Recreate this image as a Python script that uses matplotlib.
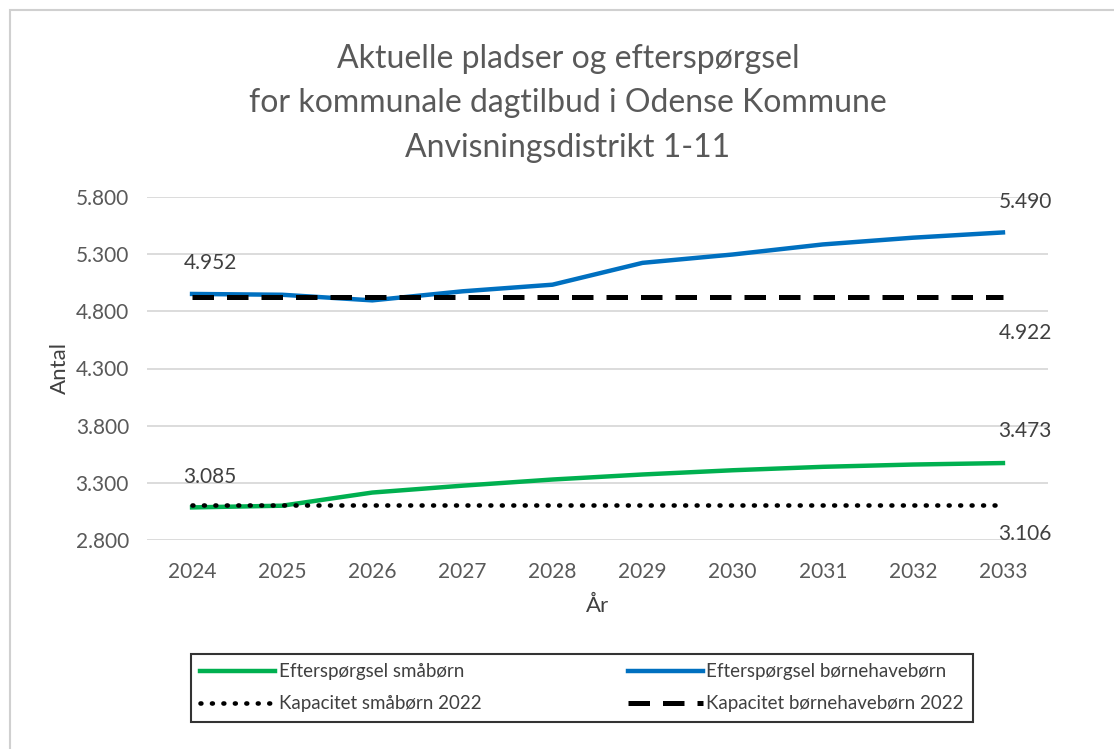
import matplotlib.pyplot as plt
from matplotlib.patches import Rectangle

plt.rcParams['font.family'] = ['Lato', 'DejaVu Sans']

# Data
years = ['2024', '2025', '2026', '2027', '2028', '2029', '2030', '2031', '2032', '2033']
eftersp_smaa = [3085, 3100, 3215, 3275, 3329, 3373, 3410, 3440, 3460, 3473]
eftersp_bh = [4952, 4945, 4896, 4975, 5033, 5224, 5297, 5385, 5444, 5490]
kap_smaa = [3106] * 10
kap_bh = [4922] * 10

grey = '#595959'
x = range(len(years))

fig = plt.figure(figsize=(11.14, 7.49), dpi=100)
ax = fig.add_axes([147 / 1114, 1 - 540 / 749, (1048 - 147) / 1114, (540 - 197) / 749])

# light chart border
fig.patches.append(Rectangle((10 / 1114, -0.1), 1.2, (749 - 10) / 749 + 0.1,
                             transform=fig.transFigure, fill=False,
                             edgecolor='#d0d0d0', linewidth=1.5))

l1, = ax.plot(x, eftersp_smaa, color='#00B050', linewidth=3.2, label='Efterspørgsel småbørn')
l2, = ax.plot(x, eftersp_bh, color='#0070C0', linewidth=3.2, label='Efterspørgsel børnehavebørn')
l3, = ax.plot(x, kap_smaa, color='black', linewidth=3.3, linestyle=(0, (0.2, 2.3)),
              dash_capstyle='round', label='Kapacitet småbørn 2022')
l4, = ax.plot(x, kap_bh, color='black', linewidth=3.6, linestyle=(0, (4.3, 2.6)),
              label='Kapacitet børnehavebørn 2022')

ax.set_xlim(-0.5, 9.5)
ax.set_ylim(2800, 5800)
ax.set_yticks(range(2800, 5801, 500))
ax.set_yticklabels([f'{v:,}'.replace(',', '.') for v in range(2800, 5801, 500)])
ax.set_xticks(list(x))
ax.set_xticklabels(years)
ax.tick_params(length=0, labelsize=15, labelcolor=grey)
ax.tick_params(axis='x', pad=16)
ax.tick_params(axis='y', pad=13)
ax.grid(axis='y', color='#d9d9d9', linewidth=1.3)
ax.set_axisbelow(True)
for s in ax.spines.values():
    s.set_visible(False)

ax.set_ylabel('Antal', fontsize=16, color='#404040', labelpad=4)
ax.set_xlabel('År', fontsize=16, color='#404040', labelpad=10)

# data labels
def lab(i, v, dx, dy):
    ax.annotate(f'{v:,}'.replace(',', '.'), (i, v), xytext=(dx, dy), textcoords='offset points',
                ha='center', va='center', fontsize=15, color='#404040')

lab(0, eftersp_bh[0], 13, 22)
lab(0, eftersp_smaa[0], 13, 22)
lab(9, eftersp_bh[9], 16, 22)
lab(9, kap_bh[9], 16, -26)
lab(9, eftersp_smaa[9], 16, 23)
lab(9, kap_smaa[9], 16, -21)

fig.suptitle('Aktuelle pladser og efterspørgsel\nfor kommunale dagtilbud i Odense Kommune\nAnvisningsdistrikt 1-11',
             x=568 / 1114, y=1 - 44 / 749, va='top', fontsize=23, color=grey, linespacing=1.6)

leg = fig.legend(handles=[l1, l3, l2, l4], ncol=2, loc='center',
                 bbox_to_anchor=(582 / 1114, 1 - 688 / 749), frameon=True, fancybox=False,
                 fontsize=13.5, handlelength=4.0, handletextpad=0.2, columnspacing=7.8,
                 labelspacing=0.8, borderpad=0.5)
leg.get_frame().set_edgecolor('black')
leg.get_frame().set_linewidth(1.5)
for t in leg.get_texts():
    t.set_color('#404040')

fig.savefig('out.png', dpi=100)
